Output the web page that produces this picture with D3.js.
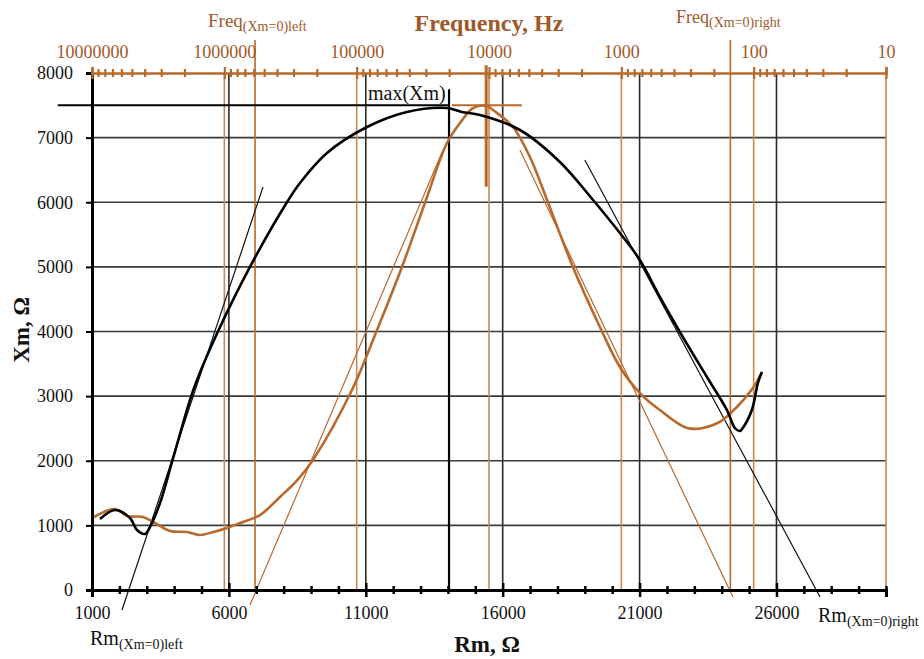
<!DOCTYPE html>
<html>
<head>
<meta charset="utf-8">
<script src="https://cdn.jsdelivr.net/npm/d3@7"></script>
<style>
  body { margin: 0; background: #fff; }
  svg text { font-family: "Liberation Serif", "Times New Roman", serif; }
</style>
</head>
<body>
<svg id="chart" width="924" height="659"></svg>
<script>
// Xm vs Rm, black curve
var rmBlack = [1292, 1840, 2388, 2643, 2936, 3118, 3483, 3922, 4579, 4835, 5600, 6770, 8120, 8596, 9582, 11043, 12504, 13965, 14510, 15170, 16630, 18090, 19300, 20280, 21010, 21740, 22470, 23460, 24190, 24480, 24660, 24770, 25100, 25320, 25470];
var xmBlack = [1099, 1238, 1114, 928, 867, 975, 1346, 1981, 2940, 3250, 4000, 5000, 6000, 6298, 6762, 7164, 7397, 7458, 7397, 7350, 7118, 6623, 6035, 5524, 5106, 4534, 3992, 3296, 2785, 2507, 2460, 2507, 2785, 3203, 3373];

// Xm vs Rm, brown curve
var rmOrange = [1000, 1840, 2278, 2862, 3300, 3848, 4469, 4944, 5419, 5930, 6405, 7135, 7866, 8500, 9070, 10495, 11410, 12320, 13160, 13965, 14440, 14915, 15425, 15645, 16375, 16995, 17620, 18565, 19550, 20280, 21010, 21740, 22730, 23310, 23930, 24555, 25140, 25470];
var xmOrange = [1114, 1253, 1145, 1130, 1037, 913, 897, 851, 897, 959, 1037, 1160, 1439, 1700, 2012, 3095, 4023, 4998, 5989, 6917, 7226, 7458, 7490, 7427, 7164, 6700, 6035, 4998, 4070, 3451, 3048, 2785, 2507, 2507, 2600, 2832, 3126, 3373];

// tangent lines [Rm, Xm]
var tangentBlackLeft = [[2095, -309], [7245, 6236]];
var tangentBlackRight = [[19000, 6654], [27590, -108]];
var tangentOrangeLeft = [[6770, -232], [13820, 6808]];
var tangentOrangeRight = [[16630, 6808], [24410, -108]];

// axis ticks
var rmMajor = [1000, 6000, 11000, 16000, 21000, 26000];
var xmTicks = [0, 1000, 2000, 3000, 4000, 5000, 6000, 7000, 8000];
var freqMajor = [10000000, 1000000, 100000, 10000, 1000, 100, 10];

// markers
var maxXm = 7500;
var rmAtMax = 14040;
var freqAtMax = 10500;
var rmOrangeMax = [14150, 16700];
var freqLeft = 586000;
var freqRight = 150;

var brown = "#b8692c";
var brownText = "#a0582a";
var gridOrange = "#c98a52";

var svg = d3.select("#chart");
svg.append("rect").attr("width", 924).attr("height", 659).attr("fill", "#fff");

var x = d3.scaleLinear().domain([1000, 30000]).range([92, 886]);
var y = d3.scaleLinear().domain([0, 8000]).range([590, 73]);
var f = d3.scaleLog().domain([10000000, 10]).range([92, 886]);

var rmMinor = d3.range(1000, 30001, 1000).filter(function(d) { return rmMajor.indexOf(d) < 0; });
var freqMinor = [];
for (var k = 1; k < 7; k++) {
  for (var m = 2; m < 10; m++) freqMinor.push(m * Math.pow(10, k));
}

var grid = svg.append("g");

// horizontal grid
grid.selectAll(".hgrid")
  .data(xmTicks.filter(function(d) { return d > 0 && d < 8000; }))
  .enter().append("line")
  .attr("x1", x(1000)).attr("x2", x(30000))
  .attr("y1", y).attr("y2", y)
  .attr("stroke", "#3a3a3a").attr("stroke-width", 1.6);

// frequency decade grid
grid.selectAll(".fgrid")
  .data(freqMajor)
  .enter().append("line")
  .attr("x1", f).attr("x2", f)
  .attr("y1", y(8000)).attr("y2", y(0))
  .attr("stroke", gridOrange).attr("stroke-width", 1.6);

// Rm grid
grid.selectAll(".rgrid")
  .data(rmMajor.slice(1))
  .enter().append("line")
  .attr("x1", x).attr("x2", x)
  .attr("y1", y(8000)).attr("y2", y(0))
  .attr("stroke", "#2a2a2a").attr("stroke-width", 1.6);

// Freq(Xm=0) verticals
grid.selectAll(".fzero")
  .data([freqLeft, freqRight])
  .enter().append("line")
  .attr("x1", f).attr("x2", f)
  .attr("y1", y(8510)).attr("y2", y(0))
  .attr("stroke", brown).attr("stroke-width", 1.6);

// max(Xm) markers
grid.append("line")
  .attr("x1", x(-250)).attr("x2", x(rmAtMax))
  .attr("y1", y(maxXm)).attr("y2", y(maxXm))
  .attr("stroke", "#000").attr("stroke-width", 2);
grid.append("line")
  .attr("x1", x(rmAtMax)).attr("x2", x(rmAtMax))
  .attr("y1", y(0)).attr("y2", y(7750))
  .attr("stroke", "#000").attr("stroke-width", 2.2);
grid.append("line")
  .attr("x1", x(rmOrangeMax[0])).attr("x2", x(rmOrangeMax[1]))
  .attr("y1", y(maxXm)).attr("y2", y(maxXm))
  .attr("stroke", brown).attr("stroke-width", 2);
grid.append("line")
  .attr("x1", f(freqAtMax)).attr("x2", f(freqAtMax))
  .attr("y1", y(8120)).attr("y2", y(6240))
  .attr("stroke", brown).attr("stroke-width", 3);

// tangents
var plain = d3.line().x(function(d) { return x(d[0]); }).y(function(d) { return y(d[1]); });
svg.append("path").attr("d", plain(tangentBlackLeft)).attr("fill", "none").attr("stroke", "#111").attr("stroke-width", 1.2);
svg.append("path").attr("d", plain(tangentBlackRight)).attr("fill", "none").attr("stroke", "#111").attr("stroke-width", 1.2);
svg.append("path").attr("d", plain(tangentOrangeLeft)).attr("fill", "none").attr("stroke", brown).attr("stroke-width", 1.2);
svg.append("path").attr("d", plain(tangentOrangeRight)).attr("fill", "none").attr("stroke", brown).attr("stroke-width", 1.2);

// curves
var curve = d3.line()
  .x(function(d) { return x(d[0]); })
  .y(function(d) { return y(d[1]); })
  .curve(d3.curveCatmullRom.alpha(0.5));

svg.append("path")
  .attr("d", curve(d3.zip(rmOrange, xmOrange)))
  .attr("fill", "none").attr("stroke", brown).attr("stroke-width", 2.6);
svg.append("path")
  .attr("d", curve(d3.zip(rmBlack, xmBlack)))
  .attr("fill", "none").attr("stroke", "#000").attr("stroke-width", 2.6);

// bottom axis (Rm)
var xAxis = svg.append("g")
  .attr("transform", "translate(0," + y(0) + ")")
  .call(d3.axisBottom(x).tickValues(rmMajor).tickSize(7).tickPadding(9).tickFormat(d3.format("d")));
xAxis.selectAll(".tick line").attr("y1", -7).attr("stroke-width", 2.5);
xAxis.select(".domain").attr("stroke-width", 3);

var xMinor = svg.append("g")
  .attr("transform", "translate(0," + y(0) + ")")
  .call(d3.axisBottom(x).tickValues(rmMinor).tickSize(4).tickFormat(""));
xMinor.selectAll(".tick line").attr("y1", -4).attr("stroke-width", 2.5);
xMinor.select(".domain").remove();

// left axis (Xm)
var yAxis = svg.append("g")
  .attr("transform", "translate(" + x(1000) + ",0)")
  .call(d3.axisLeft(y).tickValues(xmTicks).tickSize(6).tickPadding(13).tickFormat(d3.format("d")));
yAxis.selectAll(".tick line").attr("stroke-width", 2);
yAxis.select(".domain").attr("stroke-width", 3);

// top axis (frequency)
var fAxis = svg.append("g")
  .attr("transform", "translate(0," + y(8000) + ")")
  .call(d3.axisTop(f).tickValues(freqMajor).tickSize(6).tickPadding(9).tickFormat(d3.format("d")));
fAxis.selectAll(".tick line").attr("y2", 6).attr("y1", -6).attr("stroke", brown).attr("stroke-width", 2.2);
fAxis.select(".domain").attr("stroke", brown).attr("stroke-width", 2.5);

var fMinor = svg.append("g")
  .attr("transform", "translate(0," + y(8000) + ")")
  .call(d3.axisTop(f).tickValues(freqMinor).tickSize(4).tickFormat(""));
fMinor.selectAll(".tick line").attr("y2", 4).attr("y1", -4).attr("stroke", brown).attr("stroke-width", 2.2);
fMinor.select(".domain").remove();

svg.selectAll(".tick text")
  .style("font-family", '"Liberation Serif", "Times New Roman", serif')
  .attr("font-size", 18);
xAxis.selectAll(".tick text").attr("fill", "#111");
yAxis.selectAll(".tick text").attr("fill", "#111");
fAxis.selectAll(".tick text").attr("fill", brownText);

// titles
svg.append("text")
  .attr("x", 489).attr("y", 31)
  .attr("text-anchor", "middle")
  .attr("font-size", 24).attr("font-weight", "bold")
  .attr("fill", brownText)
  .text("Frequency, Hz");

svg.append("text")
  .attr("x", 487).attr("y", 652)
  .attr("text-anchor", "middle")
  .attr("font-size", 23).attr("font-weight", "bold")
  .attr("fill", "#111")
  .text("Rm, Ω");

svg.append("text")
  .attr("transform", "translate(29,330) rotate(-90)")
  .attr("text-anchor", "middle")
  .attr("font-size", 23).attr("font-weight", "bold")
  .attr("fill", "#111")
  .text("Xm, Ω");

svg.append("text")
  .attr("x", 368).attr("y", 100)
  .attr("font-size", 20)
  .attr("fill", "#111")
  .text("max(Xm)");

function subLabel(px, py, main, sub, color, size, subSize) {
  var t = svg.append("text")
    .attr("x", px).attr("y", py)
    .attr("font-size", size)
    .attr("fill", color);
  t.append("tspan").text(main);
  t.append("tspan").attr("font-size", subSize).attr("dy", 4).text(sub);
}

subLabel(208, 27, "Freq", "(Xm=0)left", brownText, 19, 14);
subLabel(676, 23, "Freq", "(Xm=0)right", brownText, 18, 14);
subLabel(90, 645, "Rm", "(Xm=0)left", "#111", 20, 14);
subLabel(818, 622, "Rm", "(Xm=0)right", "#111", 20, 14);
</script>
</body>
</html>
